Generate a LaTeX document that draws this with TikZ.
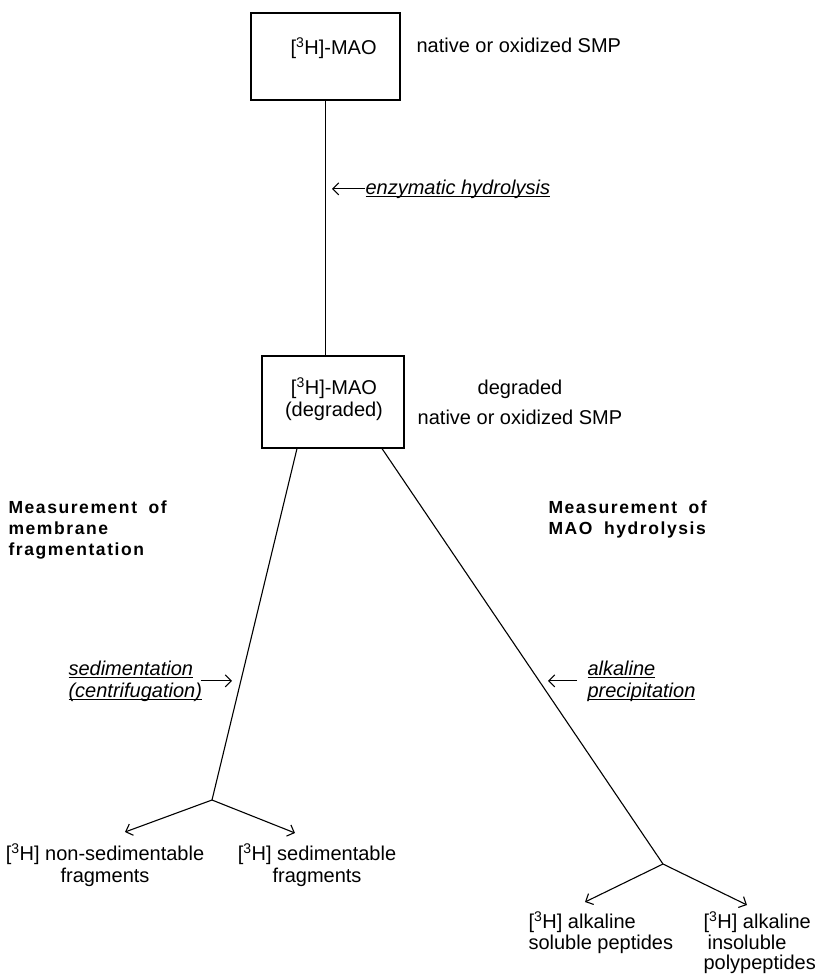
\documentclass[tikz,border=0pt]{standalone}
\usepackage{fontspec}
\setmainfont{Liberation Sans}
\newfontfamily\headfont[LetterSpace=9,WordSpace=1.8]{Liberation Sans}
\usetikzlibrary{arrows.meta}
\newcommand\undl[1]{\setbox0\hbox{#1}\rlap{\rule[-3pt]{\wd0}{0.9pt}}\box0}
\newcommand\tritium{[\textsuperscript{3}H]}

\begin{document}
\begin{tikzpicture}[x=1pt,y=-1pt,line width=1.1pt,
  box/.style={draw, inner sep=0pt},
  txt/.style={inner sep=0pt, font=\fontsize{20}{22}\selectfont},
  head/.style={inner sep=0pt, anchor=north west, align=left,
    font=\headfont\bfseries\fontsize{17.5}{21}\selectfont},
  arr/.style={-{Straight Barb[length=6pt,width=12pt]}}]
\useasboundingbox (0,0) rectangle (819,974);

% Boxes
\node[box, minimum width=149pt, minimum height=87pt] (topbox) at (325.5,56.5) {};
\node[box, minimum width=142pt, minimum height=92pt] (midbox) at (333,402) {};
\node[txt, anchor=north west] (topmao) at (290,37) {\tritium-MAO};
\node[txt, anchor=north, align=center] (midmao) at (334,377) {\tritium-MAO\\(degraded)};

% Side texts
\node[txt, anchor=north west] (topside) at (416,37) {native or oxidized SMP};
\node[txt, anchor=north, align=center] (midside) at (520,379) {degraded\\[8pt]native or oxidized SMP};

% Hydrolysis step
\draw (topbox.south) -- (topbox.south |- midbox.north);
\node[txt, anchor=north west] (enz) at (365,179) {\undl{\textit{enzymatic hydrolysis}}};
\coordinate (enzt) at (332,188);
\draw[arr] (enz.west) -- (enz.west -| enzt);

% Headings
\node[head] (lefthead) at (8,500) {Measurement of\\membrane\\fragmentation};
\node[head] (righthead) at (548,500) {Measurement of\\MAO hydrolysis};

% Branches
\coordinate (lsplit) at (212,800);
\coordinate (rsplit) at (663,864);
\draw ([xshift=-36pt]midbox.south) -- (lsplit);
\draw ([xshift=49pt]midbox.south) -- (rsplit);

\node[txt, anchor=north west, align=left] (sed) at (68,660)
  {\undl{\textit{sedimentation}}\\\undl{\textit{(centrifugation)}}};
\coordinate (sedt) at (232,680);
\draw[arr, shorten <=-2pt] (sed.east) -- (sed.east -| sedt);

\node[txt, anchor=north west, align=left] (alk) at (587,660)
  {\undl{\textit{alkaline}}\\\undl{\textit{precipitation}}};
\coordinate (alkt) at (548,680);
\draw[arr, shorten <=10pt] (alk.west) -- (alk.west -| alkt);

% Products
\coordinate (nst) at (125,832);
\coordinate (st) at (295,833);
\coordinate (spt) at (585,902);
\coordinate (ipt) at (747,905);
\draw[arr] (lsplit) -- (nst);
\draw[arr] (lsplit) -- (st);
\draw[arr] (rsplit) -- (spt);
\draw[arr] (rsplit) -- (ipt);

\node[txt, anchor=north, align=center] (nonsed) at (105,843) {\tritium{} non-sedimentable\\fragments};
\node[txt, anchor=north, align=center] (sedfr) at (317,843) {\tritium{} sedimentable\\fragments};
\node[txt, anchor=north west, align=left, font=\fontsize{20}{21}\selectfont] (solpep) at (528,911) {\tritium{} alkaline\\soluble peptides};
\node[txt, anchor=north west, align=left, font=\fontsize{20}{20.5}\selectfont] (insol) at (703,911) {\tritium{} alkaline\\\hspace{4pt}insoluble\\polypeptides};

\end{tikzpicture}
\end{document}
